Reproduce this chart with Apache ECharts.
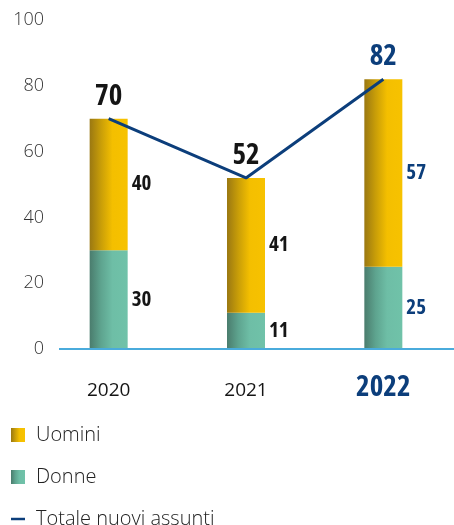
<!DOCTYPE html>
<html>
<head>
<meta charset="utf-8">
<script src="https://cdn.jsdelivr.net/npm/echarts@6/dist/echarts.min.js"></script>
<style>
  html, body { margin: 0; padding: 0; background: #fff; }
  #chart { width: 454px; height: 525px; }
</style>
</head>
<body>
<div id="chart"></div>
<script>
// New hires by year, split by gender, with the yearly total
const categories = ['2020', '2021', '2022'];
const donne = [30, 11, 25];
const uomini = [40, 41, 57];
const totale = [70, 52, 82];

const NAVY = '#0c3e7b';
const INK = '#151515';
const BASE = '#4aabdc';
const COND = "'Open Sans', Roboto, sans-serif";
const COND_W = 'bold condensed';
const LIGHT = "'Open Sans', 'Noto Sans', sans-serif";
const last = categories.length - 1;

const goldGrad = new echarts.graphic.LinearGradient(0, 0, 1, 0, [
  { offset: 0, color: '#9a7812' },
  { offset: 0.3, color: '#c99e08' },
  { offset: 0.6, color: '#f4bf00' },
  { offset: 1, color: '#f7c200' }
]);
const greenGrad = new echarts.graphic.LinearGradient(0, 0, 1, 0, [
  { offset: 0, color: '#4a7c6d' },
  { offset: 0.3, color: '#5ea48f' },
  { offset: 0.6, color: '#6ebea6' },
  { offset: 1, color: '#70c2a9' }
]);

// highlight the latest year in navy
function segData(arr) {
  return arr.map((v, i) => i === last ? { value: v, label: { color: NAVY } } : v);
}

const segLabel = {
  show: true,
  position: 'right',
  distance: 4,
  fontFamily: COND,
  fontWeight: COND_W,
  fontSize: 21,
  color: INK
};

const chart = echarts.init(document.getElementById('chart'), null, { renderer: 'canvas' });
chart.setOption({
  animation: false,
  grid: { left: 40, right: 2, top: 20, bottom: 176 },
  legend: {
    orient: 'vertical',
    left: 11,
    top: 425,
    height: 140,
    padding: 0,
    itemWidth: 14,
    itemHeight: 14,
    itemGap: 22,
    textStyle: { fontFamily: LIGHT, fontWeight: 300, fontSize: 20, color: '#222', padding: [0, 0, 0, 6], lineHeight: 18 },
    data: [
      { name: 'Uomini', icon: 'rect' },
      { name: 'Donne', icon: 'rect' },
      { name: 'Totale nuovi assunti', icon: 'path://M0,0H17V3H0Z' }
    ]
  },
  xAxis: {
    type: 'category',
    data: categories,
    axisLine: { show: false },
    axisTick: { show: false },
    axisLabel: {
      margin: 32,
      formatter: (v, i) => i === last ? '{hl|' + v + '}' : '{n|' + v + '}',
      rich: {
        n: { fontFamily: LIGHT, fontSize: 19, color: INK, lineHeight: 20 },
        hl: { fontFamily: COND, fontWeight: COND_W, fontSize: 29, color: NAVY, lineHeight: 14 }
      }
    }
  },
  yAxis: {
    type: 'value',
    min: 0,
    max: 100,
    interval: 20,
    splitLine: { show: false },
    axisLine: { show: false },
    axisTick: { show: false },
    axisLabel: { margin: -4, fontFamily: LIGHT, fontWeight: 300, fontSize: 18, color: '#333' }
  },
  series: [
    {
      name: 'Donne',
      type: 'bar',
      stack: 'tot',
      barWidth: 38,
      itemStyle: { color: greenGrad },
      label: segLabel,
      data: segData(donne)
    },
    {
      name: 'Uomini',
      type: 'bar',
      stack: 'tot',
      barWidth: 38,
      itemStyle: { color: goldGrad },
      label: segLabel,
      data: segData(uomini)
    },
    {
      name: 'Totale nuovi assunti',
      type: 'line',
      showSymbol: true,
      symbol: 'circle',
      symbolSize: 0,
      lineStyle: { color: NAVY, width: 3 },
      itemStyle: { color: NAVY },
      label: {
        show: true,
        position: 'top',
        distance: 8,
        fontFamily: COND,
        fontWeight: COND_W,
        fontSize: 29,
        lineHeight: 28,
        color: INK
      },
      data: segData(totale)
    }
  ]
});

// baseline at zero, starting just right of the "0" tick label
const y0 = chart.convertToPixel({ yAxisIndex: 0 }, 0);
chart.setOption({
  graphic: [{
    type: 'line',
    z: 5,
    shape: { x1: 59, y1: y0, x2: 454, y2: y0 },
    style: { stroke: BASE, lineWidth: 2 }
  }]
});
</script>
</body>
</html>
